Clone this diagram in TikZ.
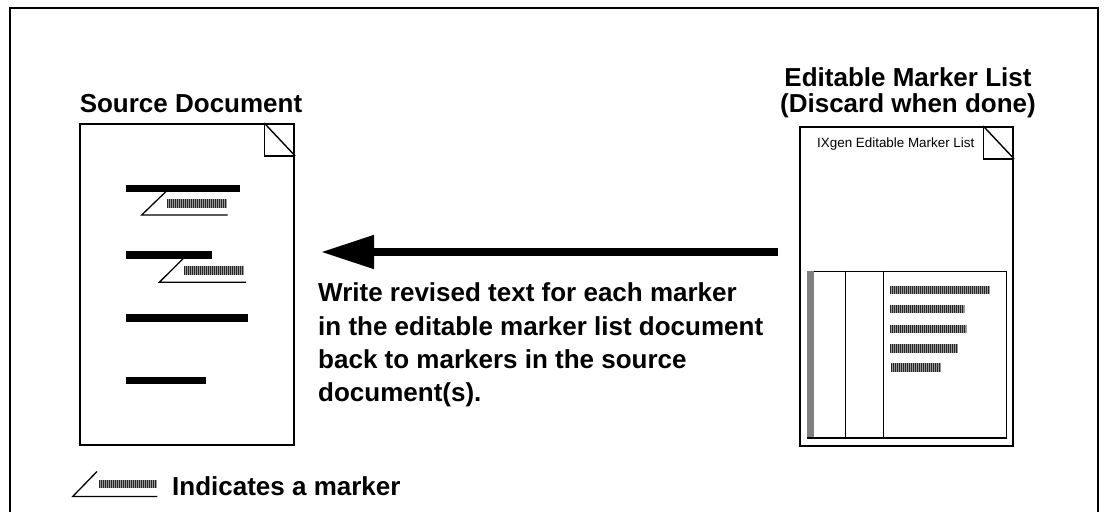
\documentclass[tikz,border=0pt]{standalone}
\usepackage{fontspec}
\setmainfont{Liberation Sans}
\usetikzlibrary{arrows.meta}

% striped "marker text" bar: left, top, right, bottom
\newcommand\barcodebox[4]{%
  \fill[stripebg] (#1,#2) rectangle (#3,#4);
  \pgfmathtruncatemacro\nstripes{((#3)-(#1))/2-1}%
  \foreach \i in {0,...,\nstripes}{%
    \draw[stripefg] ({#1+2*\i+0.5},#2) -- ({#1+2*\i+0.5},#4);}%
}

\tikzset{
  stripebg/.style={fill=black!40},
  stripefg/.style={draw=black!85, line width=1.1},
  frameline/.style={line width=2},
  docbox/.style={draw, line width=2.2, fill=white, inner sep=0},
  earline/.style={line width=1.4},
  textbar/.style={fill=black},
  markline/.style={line width=1.3},
  heading/.style={font=\bfseries\fontsize{26}{26}\selectfont, inner sep=0},
  bodytext/.style={font=\bfseries\fontsize{26}{33.3}\selectfont, inner sep=0, align=left},
  smalltext/.style={font=\fontsize{13.4}{16}\selectfont, inner sep=0},
  bigarrow/.style={line width=8, -{Triangle[length=53, width=32]}},
}

\begin{document}
\begin{tikzpicture}[x=1pt, y=-1pt]
\useasboundingbox (0,0) rectangle (1104,512);

% open frame (no bottom edge)
\draw[frameline] (10,512) -- (10,8) -- (1098,8) -- (1098,512);

% ---------- source document ----------
\node[docbox, minimum width=214, minimum height=321, anchor=north west] (src) at (79,123) {};
\draw[earline] ([xshift=-31]src.north east) -- ++(0,33) -- ([yshift=-33]src.north east);
\draw[earline] ([xshift=-31]src.north east) -- ([yshift=-33]src.north east);
\node[heading, anchor=base] (srctitle) at (191,112) {Source Document};

% text lines
\fill[textbar] (126,184.5) rectangle (240,191.5);
\fill[textbar] (126,251) rectangle (212,258.5);
\fill[textbar] (126,314) rectangle (248,321.5);
\fill[textbar] (126,376.5) rectangle (206,384);

% markers
\draw[markline] (166,191.5) -- (141.7,215) -- (227.7,215);
\barcodebox{167}{199}{227}{208}
\draw[markline] (183.3,258.5) -- (159.3,282.3) -- (246,282.3);
\barcodebox{184}{265.7}{244}{275}

% ---------- editable marker list ----------
\node[docbox, minimum width=213, minimum height=319, anchor=north west] (list) at (799,126) {};
\draw[earline] ([xshift=-31]list.north east) -- ++(0,33) -- ([yshift=-33]list.north east);
\draw[earline] ([xshift=-31]list.north east) -- ([yshift=-33]list.north east);
\node[heading, align=center, anchor=base] (listtitle) at (908,112) {Editable Marker List\\(Discard when done)};
\node[smalltext, anchor=base west] (listhead) at (817,147) {IXgen Editable Marker List};

% table inside the list
\node[draw, line width=1.3, inner sep=0, minimum width=198.5, minimum height=166.5, anchor=north west] (tbl) at (807.3,270.7) {};
\fill[black!50] (tbl.north west) rectangle (814.3,437.3);
\draw[line width=1.3] (845.3,270.7) -- (845.3,437.3);
\draw[line width=1.3] (883.7,270.7) -- (883.7,437.3);
\barcodebox{890}{286}{990}{294.3}
\barcodebox{890}{305}{965}{313.3}
\barcodebox{890}{325}{967}{333.3}
\barcodebox{890}{344.3}{958}{352.7}
\barcodebox{891}{363.3}{941}{371.7}

% ---------- write-back arrow and explanation ----------
\coordinate (arrstart) at (778,252);
\coordinate (arrend) at (321,252);
\draw[bigarrow] (arrstart) -- (arrend);
\node[bodytext, anchor=base west] (msg) at (318,401.7)
  {Write revised text for each marker\\in the editable marker list document\\back to markers in the source\\document(s).};

% ---------- legend ----------
\draw[markline] (97,471.5) -- (72.7,496.5) -- (157.3,496.5);
\barcodebox{99}{480}{157}{488.3}
\node[heading, anchor=base west] (legend) at (172,495) {Indicates a marker};
\end{tikzpicture}
\end{document}
